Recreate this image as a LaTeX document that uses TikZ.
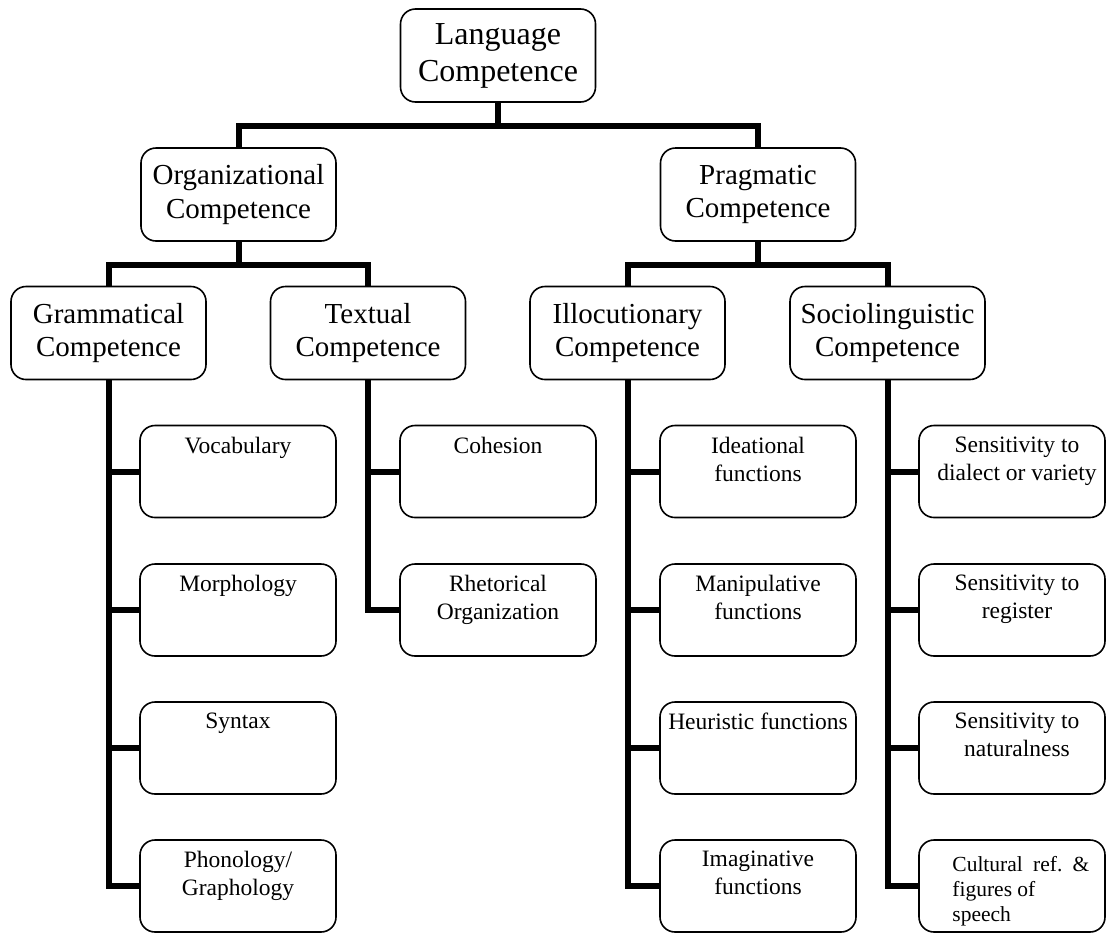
\documentclass[tikz,border=0pt]{standalone}
\usepackage{fontspec}
\setmainfont{Liberation Serif}
\begin{document}
\begin{tikzpicture}[x=1pt,y=-1pt,
  box/.style={draw, line width=1.6pt, rounded corners=15pt, fill=white, inner sep=0pt},
  big/.style={box, minimum width=195pt, minimum height=93pt, font=\fontsize{29}{33.5}\selectfont, align=center},
  topbox/.style={big, font=\fontsize{32}{37}\selectfont},
  leaf/.style={box, minimum width=196pt, minimum height=92pt},
  wideleaf/.style={box, minimum width=186pt, minimum height=92pt},
  leaftext/.style={anchor=north, inner sep=0pt, align=center, font=\fontsize{23.5}{28}\selectfont},
  conn/.style={line width=6pt}]
\useasboundingbox (0,0) rectangle (1107,932);

% upper levels
\node[topbox] (lc) at (498,55.5)  {Language\\Competence};
\node[big] (org)  at (238.5,194.5) {Organizational\\Competence};
\node[big] (prag) at (758,194.5) {Pragmatic\\Competence};
\node[big] (gram) at (108.5,333) {Grammatical\\Competence};
\node[big] (txt)  at (368,333) {Textual\\Competence};
\node[big] (illo) at (627.5,333) {Illocutionary\\Competence};
\node[big] (soc)  at (887.5,333) {Sociolinguistic\\Competence};

% column 1
\node[leaf] (voc) at (238,471.5) {};
\node[leaftext] (vocT) at ([yshift=-12pt]voc.north) {Vocabulary};
\node[leaf] (mor) at (238,610) {};
\node[leaftext] (morT) at ([yshift=-12pt]mor.north) {Morphology};
\node[leaf] (syn) at (238,748) {};
\node[leaftext] (synT) at ([yshift=-12pt]syn.north) {Syntax};
\node[leaf] (pho) at (238,886) {};
\node[leaftext] (phoT) at ([yshift=-12pt]pho.north) {Phonology/\\Graphology};

% column 2
\node[leaf] (coh) at (498,471.5) {};
\node[leaftext] (cohT) at ([yshift=-12pt]coh.north) {Cohesion};
\node[leaf] (rhe) at (498,610) {};
\node[leaftext] (rheT) at ([yshift=-12pt]rhe.north) {Rhetorical\\Organization};

% column 3
\node[leaf] (ide) at (758,471.5) {};
\node[leaftext] (ideT) at ([yshift=-12pt]ide.north) {Ideational\\functions};
\node[leaf] (man) at (758,610) {};
\node[leaftext] (manT) at ([yshift=-12pt]man.north) {Manipulative\\functions};
\node[leaf] (heu) at (758,748) {};
\node[leaftext] (heuT) at ([yshift=-12pt]heu.north) {Heuristic functions};
\node[leaf] (ima) at (758,886) {};
\node[leaftext] (imaT) at ([yshift=-12pt]ima.north) {Imaginative\\functions};

% column 4
\node[wideleaf] (sdv) at (1012,471.5) {};
\node[leaftext] (sdvT) at ([xshift=5pt,yshift=-12pt]sdv.north) {Sensitivity to\\dialect or variety};
\node[wideleaf] (sre) at (1012,610) {};
\node[leaftext] (sreT) at ([xshift=5pt,yshift=-12pt]sre.north) {Sensitivity to\\register};
\node[wideleaf] (sna) at (1012,748) {};
\node[leaftext] (snaT) at ([xshift=5pt,yshift=-12pt]sna.north) {Sensitivity to\\naturalness};
\node[wideleaf] (cul) at (1012,886) {};
\node[anchor=north west, inner sep=0pt, align=left,
      font=\fontsize{21.5}{25}\selectfont\frenchspacing] (culT)
  at ([xshift=34pt,yshift=-17pt]cul.north west)
  {\makebox[137pt][s]{Cultural ref. \&}\\figures of\\speech};

% connectors
\draw[conn] (lc.south) -- ++(0,23) -| (org.north);
\draw[conn] (lc.south) -- ++(0,23) -| (prag.north);
\draw[conn] (org.south) -- ++(0,23) -| (gram.north);
\draw[conn] (org.south) -- ++(0,23) -| (txt.north);
\draw[conn] (prag.south) -- ++(0,23) -| (illo.north);
\draw[conn] (prag.south) -- ++(0,23) -| (soc.north);

\draw[conn] (gram.south) |- (voc.west);
\draw[conn] (gram.south) |- (mor.west);
\draw[conn] (gram.south) |- (syn.west);
\draw[conn] (gram.south) |- (pho.west);

\draw[conn] (txt.south) |- (coh.west);
\draw[conn] (txt.south) |- (rhe.west);

\draw[conn] (illo.south) |- (ide.west);
\draw[conn] (illo.south) |- (man.west);
\draw[conn] (illo.south) |- (heu.west);
\draw[conn] (illo.south) |- (ima.west);

\draw[conn] (soc.south) |- (sdv.west);
\draw[conn] (soc.south) |- (sre.west);
\draw[conn] (soc.south) |- (sna.west);
\draw[conn] (soc.south) |- (cul.west);
\end{tikzpicture}
\end{document}
